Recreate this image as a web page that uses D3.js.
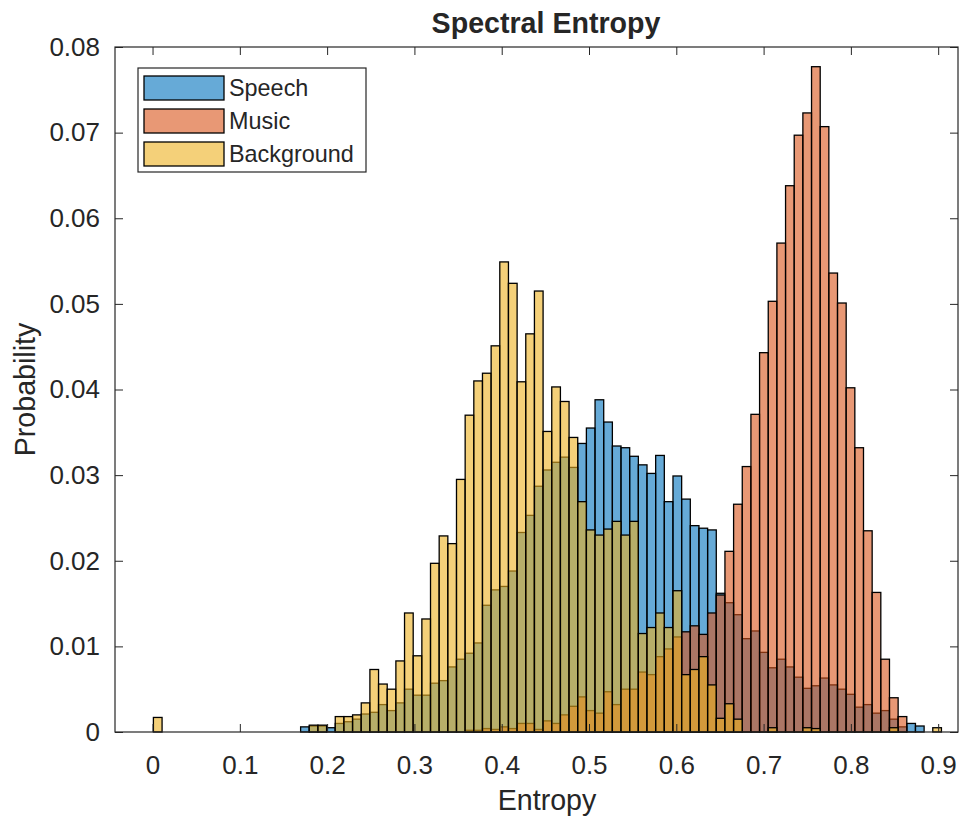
<!DOCTYPE html>
<html><head><meta charset="utf-8">
<script src="https://cdn.jsdelivr.net/npm/d3@7/dist/d3.min.js"></script>
<style>
body{margin:0;background:#fff;}
text{font-family:"Liberation Sans",Arial,Helvetica,sans-serif;fill:#262626;}
</style>
</head><body>
<svg id="chart" width="971" height="817"></svg>
<script>
// ---- data (probability per bin, bin k spans binStart + k*binWidth) ----
const binStart = 0.001;
const binWidth = 0.00992;
const speech = [
 0,0,0,0,0,0,0,0,0,0, 0,0,0,0,0,0,0,0.0006,0.0007,0.0007,
 0.0005,0.0010,0.0012,0.0015,0.0021,0.0023,0.0032,0.0025,0.0034,0.0050,
 0.0043,0.0043,0.0057,0.0060,0.0076,0.0085,0.0092,0.0104,0.0148,0.0166,
 0.0170,0.0188,0.0233,0.0253,0.0287,0.0306,0.0315,0.0321,0.0309,0.0337,
 0.0355,0.0388,0.0362,0.0334,0.0332,0.0322,0.0312,0.0302,0.0323,0.0269,
 0.0299,0.0272,0.0241,0.0238,0.0236,0.0162,0.0151,0.0137,0.0109,0.0118,
 0.0093,0.0075,0.0085,0.0076,0.0064,0.0051,0.0054,0.0063,0.0055,0.0050,
 0.0044,0.0029,0.0032,0.0022,0.0025,0.0015,0.0006,0.0010,0.0007,0,0];
const music = [
 0,0,0,0,0,0,0,0,0,0, 0,0,0,0,0,0,0,0,0,0,
 0,0,0,0,0,0,0,0,0,0, 0,0,0,0,0,0,0.0002,0.0002,0.0004,0.0003,
 0.0006,0.0004,0.0010,0.0010,0.0003,0.0013,0.0010,0.0020,0.0030,0.0041,
 0.0025,0.0022,0.0047,0.0032,0.0050,0.0050,0.0070,0.0067,0.0088,0.0097,
 0.0111,0.0117,0.0124,0.0114,0.0139,0.0160,0.0211,0.0266,0.0310,0.0371,
 0.0443,0.0503,0.0571,0.0638,0.0697,0.0723,0.0777,0.0707,0.0536,0.0501,
 0.0402,0.0332,0.0235,0.0163,0.0085,0.0040,0.0018,0,0,0,0];
const background = [
 0.0017,0,0,0,0,0,0,0,0,0, 0,0,0,0,0,0,0,0,0.0008,0.0008,
 0,0.0018,0.0018,0.0020,0.0034,0.0073,0.0056,0.0050,0.0083,0.0139,
 0.0089,0.0132,0.0197,0.0229,0.0220,0.0295,0.0370,0.0410,0.0419,0.0451,
 0.0549,0.0524,0.0409,0.0465,0.0515,0.0351,0.0403,0.0386,0.0344,0.0269,
 0.0236,0.0230,0.0237,0.0246,0.0230,0.0246,0.0115,0.0122,0.0139,0.0122,
 0.0165,0.0067,0.0073,0.0088,0.0055,0.0016,0.0033,0.0015,0,0,
 0,0.0005,0,0,0,0.0005,0.0004,0,0,0,
 0,0,0,0,0,0.0005,0,0,0,0,0.0005];
const seriesNames = ["Speech","Music","Background"];
const seriesColors = ["#0072BD","#D95319","#EDB120"];
const xTicks = [0,0.1,0.2,0.3,0.4,0.5,0.6,0.7,0.8,0.9];
const yTicks = [0,0.01,0.02,0.03,0.04,0.05,0.06,0.07,0.08];
const titleText = "Spectral Entropy";
const xLabel = "Entropy";
const yLabel = "Probability";

// ---- layout ----
const svg = d3.select("#chart");
const L = 115, R = 958, T = 47, B = 732;
const x = d3.scaleLinear().domain([-0.043, 0.9227]).range([L, R]);
const y = d3.scaleLinear().domain([0, 0.08]).range([B, T]);

svg.append("rect").attr("x",0).attr("y",0).attr("width",971).attr("height",817).attr("fill","#fff");

// bars
const allSeries = [speech, music, background];
allSeries.forEach((vals, si) => {
  const bins = vals.map((v,k) => ({x0: binStart + k*binWidth, x1: binStart + (k+1)*binWidth, v}))
                   .filter(d => d.v > 0);
  svg.append("g").selectAll("rect").data(bins).join("rect")
    .attr("x", d => x(d.x0))
    .attr("width", d => x(d.x1) - x(d.x0))
    .attr("y", d => y(d.v))
    .attr("height", d => y(0) - y(d.v))
    .attr("fill", seriesColors[si])
    .attr("fill-opacity", 0.6)
    .attr("stroke", "#000")
    .attr("stroke-width", 1.3);
});

// axes
const axCol = "#262626";
const fs = 26;
const gx = svg.append("g").attr("transform",`translate(0,${B})`)
  .call(d3.axisBottom(x).tickValues(xTicks).tickSize(-8).tickPadding(23).tickFormat(d3.format("~g")));
const gxt = svg.append("g").attr("transform",`translate(0,${T})`)
  .call(d3.axisTop(x).tickValues(xTicks).tickSize(-8).tickFormat(""));
const gy = svg.append("g").attr("transform",`translate(${L},0)`)
  .call(d3.axisLeft(y).tickValues(yTicks).tickSize(-8).tickPadding(15).tickFormat(d3.format("~g")));
const gyr = svg.append("g").attr("transform",`translate(${R},0)`)
  .call(d3.axisRight(y).tickValues(yTicks).tickSize(-8).tickFormat(""));
[gx,gxt,gy,gyr].forEach(g => {
  g.selectAll("path.domain").remove();
  g.selectAll("line").attr("stroke", axCol).attr("stroke-width",1);
  g.selectAll("text").attr("fill", axCol).style("font-size", fs+"px")
    .style("font-family","'Liberation Sans',Arial,Helvetica,sans-serif");
});
gx.selectAll("text").attr("dy","0.72em");
svg.append("rect").attr("x",L).attr("y",T).attr("width",R-L).attr("height",B-T)
  .attr("fill","none").attr("stroke",axCol).attr("stroke-width",1.2);

// title & labels
svg.append("text").attr("x",546).attr("y",33).attr("text-anchor","middle")
  .style("font-size","28.6px").style("font-weight","bold").attr("fill","#000").text(titleText);
svg.append("text").attr("x",547).attr("y",810).attr("text-anchor","middle")
  .style("font-size","28.6px").text(xLabel);
svg.append("text").attr("transform",`translate(35,${(T+B)/2}) rotate(-90)`).attr("text-anchor","middle")
  .style("font-size","28.6px").text(yLabel);

// legend
const lg = svg.append("g");
lg.append("rect").attr("x",138).attr("y",68).attr("width",228).attr("height",104)
  .attr("fill","#fff").attr("stroke",axCol).attr("stroke-width",1.2);
seriesNames.forEach((n,i) => {
  const yy = 76 + i*33;
  lg.append("rect").attr("x",144).attr("y",yy).attr("width",80).attr("height",24)
    .attr("fill",seriesColors[i]).attr("fill-opacity",0.6).attr("stroke","#000").attr("stroke-width",1.3);
  lg.append("text").attr("x",229).attr("y",yy+20).style("font-size","23.4px").text(n);
});
</script>
</body></html>
